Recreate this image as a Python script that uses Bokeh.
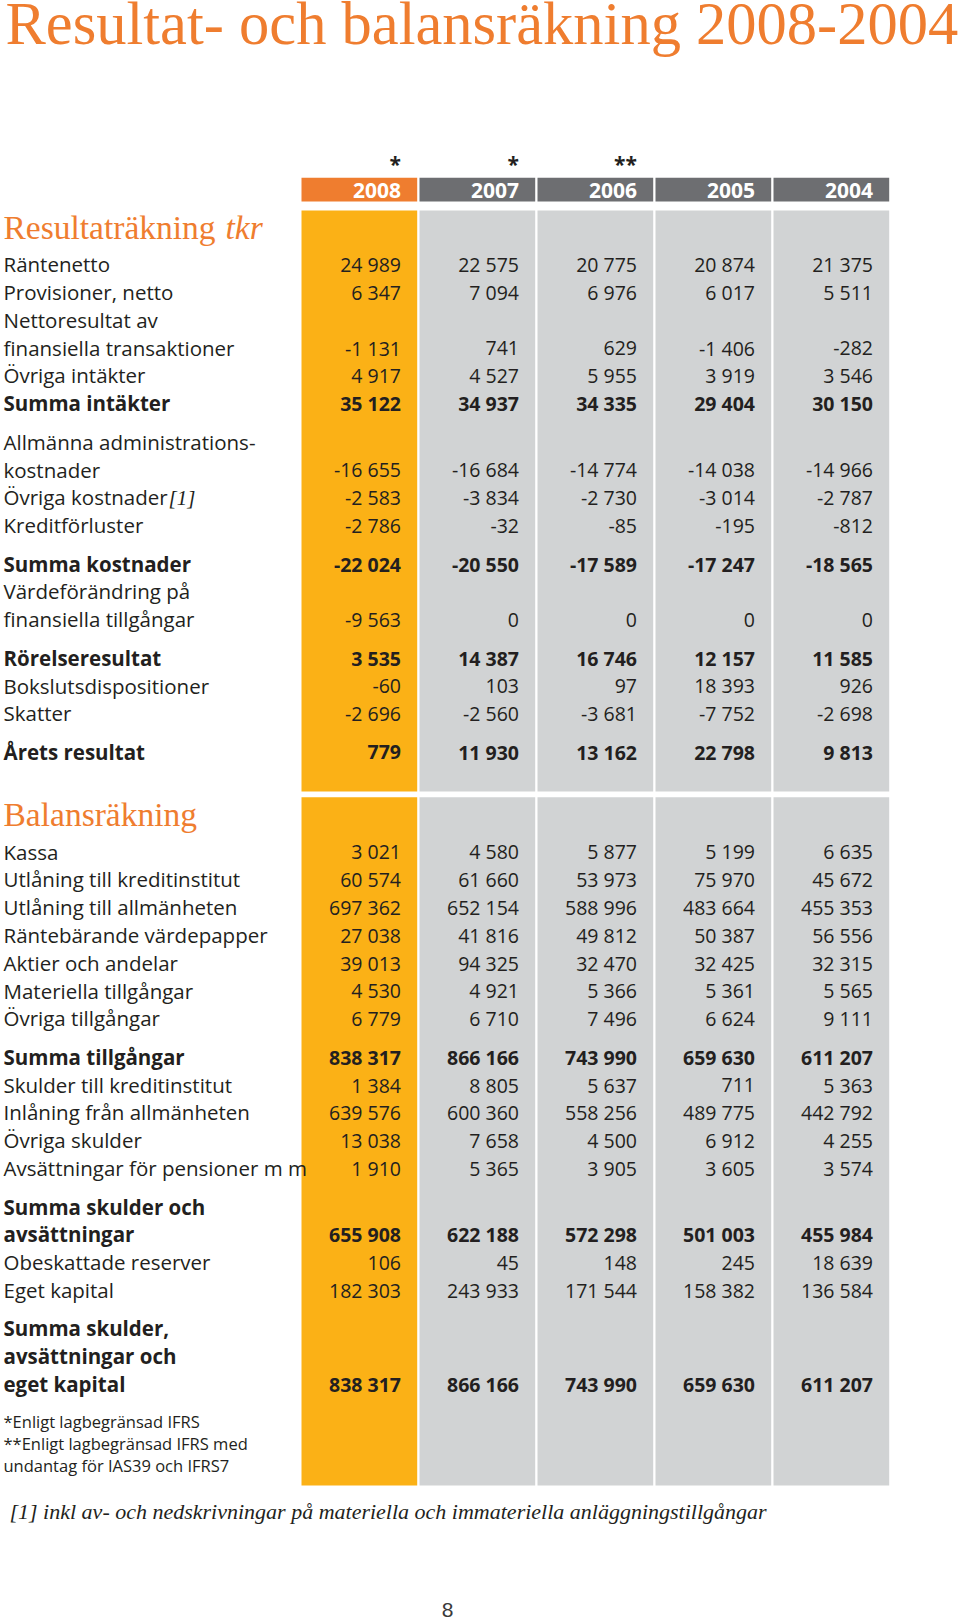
from bokeh.plotting import figure
from bokeh.models import Range1d
from bokeh.core.properties import value
from bokeh.embed import file_html
from bokeh.resources import INLINE

# ---------------- data ----------------
years = ["2008", "2007", "2006", "2005", "2004"]
year_marks = ["*", "*", "**", "", ""]

res_labels = ["Räntenetto", "Provisioner, netto", "Nettoresultat av\nfinansiella transaktioner",
              "Övriga intäkter", "Summa intäkter", "Allmänna administrations-\nkostnader",
              "Övriga kostnader", "Kreditförluster", "Summa kostnader",
              "Värdeförändring på\nfinansiella tillgångar", "Rörelseresultat",
              "Bokslutsdispositioner", "Skatter", "Årets resultat"]
res_bold = [4, 8, 10, 13]
res_gap_before = [5, 8, 10, 13]
res_2008 = [24989, 6347, -1131, 4917, 35122, -16655, -2583, -2786, -22024, -9563, 3535, -60, -2696, 779]
res_2007 = [22575, 7094, 741, 4527, 34937, -16684, -3834, -32, -20550, 0, 14387, 103, -2560, 11930]
res_2006 = [20775, 6976, 629, 5955, 34335, -14774, -2730, -85, -17589, 0, 16746, 97, -3681, 13162]
res_2005 = [20874, 6017, -1406, 3919, 29404, -14038, -3014, -195, -17247, 0, 12157, 18393, -7752, 22798]
res_2004 = [21375, 5511, -282, 3546, 30150, -14966, -2787, -812, -18565, 0, 11585, 926, -2698, 9813]

bal_labels = ["Kassa", "Utlåning till kreditinstitut", "Utlåning till allmänheten",
              "Räntebärande värdepapper", "Aktier och andelar", "Materiella tillgångar",
              "Övriga tillgångar", "Summa tillgångar", "Skulder till kreditinstitut",
              "Inlåning från allmänheten", "Övriga skulder", "Avsättningar för pensioner m m",
              "Summa skulder och\navsättningar", "Obeskattade reserver", "Eget kapital",
              "Summa skulder,\navsättningar och\neget kapital"]
bal_bold = [7, 12, 15]
bal_gap_before = [7, 12, 15]
bal_2008 = [3021, 60574, 697362, 27038, 39013, 4530, 6779, 838317, 1384, 639576, 13038, 1910, 655908, 106, 182303, 838317]
bal_2007 = [4580, 61660, 652154, 41816, 94325, 4921, 6710, 866166, 8805, 600360, 7658, 5365, 622188, 45, 243933, 866166]
bal_2006 = [5877, 53973, 588996, 49812, 32470, 5366, 7496, 743990, 5637, 558256, 4500, 3905, 572298, 148, 171544, 743990]
bal_2005 = [5199, 75970, 483664, 50387, 32425, 5361, 6624, 659630, 711, 489775, 6912, 3605, 501003, 245, 158382, 659630]
bal_2004 = [6635, 45672, 455353, 56556, 32315, 5565, 9111, 611207, 5363, 442792, 4255, 3574, 455984, 18639, 136584, 611207]

res_values = [res_2008, res_2007, res_2006, res_2005, res_2004]
bal_values = [bal_2008, bal_2007, bal_2006, bal_2005, bal_2004]

title = "Resultat- och balansräkning 2008-2004"
footnotes = ["*Enligt lagbegränsad IFRS", "**Enligt lagbegränsad IFRS med", "undantag för IAS39 och IFRS7"]
note1 = "[1] inkl av- och nedskrivningar på materiella och immateriella anläggningstillgångar"
page_no = "8"

# ---------------- style / layout ----------------
ORANGE = "#EF7D2F"
AMBER = "#FBB116"
DGRAY = "#6D6E71"
LGRAY = "#D1D3D4"
INK = "#231F20"

# baseline correction (fraction of font size) observed for the svg text renderer
K = {"Open Sans": 0.388, "Liberation Serif": 0.3375, "Liberation Sans": 0.3465}

COL0, COLSTEP, COLW = 301, 118, 115.7
PITCH, GAP = 27.8, 10.7
LBL_SIZE, VAL_SIZE = 20.5, 19.5

W, H = 960, 1621


def fmt(v):
    return f"{v:,}".replace(",", " ")


def by(baseline, font, size):
    return baseline - K[font] * size


def layout(labels, gaps, y0):
    lines, vy = [], []
    li, g = 0, 0
    for i, lab in enumerate(labels):
        if i in gaps:
            g += 1
        for part in lab.split("\n"):
            y = y0 + PITCH * li + GAP * g
            lines.append((i, part, y))
            li += 1
        vy.append(y)
    return lines, vy


p = figure(width=W, height=H, x_range=Range1d(0, W), y_range=Range1d(H, 0),
           output_backend="svg", toolbar_location=None, min_border=0)
p.axis.visible = False
p.grid.visible = False
p.outline_line_color = None
p.background_fill_color = "white"
p.border_fill_color = "white"


def txt(x, y, text, font, size, **kw):
    ys = [by(v, font, size) for v in y]
    p.text(x=x, y=ys, text=text, text_baseline="alphabetic", text_font=value(font),
           text_font_size=f"{size}px", **kw)


lefts = [COL0 + COLSTEP * i for i in range(len(years))]
rights = [l + COLW for l in lefts]
head_cols = [ORANGE] + [DGRAY] * (len(years) - 1)
body_cols = [AMBER] + [LGRAY] * (len(years) - 1)

# header bars
p.quad(left=lefts, right=rights, top=177.3, bottom=201, color=head_cols, line_color=None)
# body blocks
for top, bottom in [(210, 791), (796.7, 1485)]:
    p.quad(left=lefts, right=rights, top=top, bottom=bottom, color=body_cols, line_color=None)

vx = [l + 99.5 for l in lefts]
txt(vx, [198.3] * len(years), years, "Open Sans", 21, text_align="right",
    text_font_style="bold", text_color="white")
txt(vx, [172] * len(years), year_marks, "Open Sans", 21, text_align="right",
    text_font_style="bold", text_color=INK)

# title
txt([5], [43.5], [title], "Liberation Serif", 60.5, text_color=ORANGE)

# section headings
txt([3], [238], ["Resultaträkning"], "Liberation Serif", 33.5, text_color=ORANGE)
txt([225], [238], ["tkr"], "Liberation Serif", 33.5, text_font_style="italic", text_color=ORANGE)
txt([3], [825], ["Balansräkning"], "Liberation Serif", 33.5, text_color=ORANGE)


def draw_section(labels, gaps, bold, values, y0):
    lines, vy = layout(labels, gaps, y0)
    for is_bold in (False, True):
        style = "bold" if is_bold else "normal"
        sel = [(t, y) for (i, t, y) in lines if (i in bold) == is_bold]
        txt([3] * len(sel), [y for _, y in sel], [t for t, _ in sel], "Open Sans", LBL_SIZE,
            text_font_style=style, text_color=INK)
        idx = [i for i in range(len(labels)) if (i in bold) == is_bold]
        for c, col in enumerate(values):
            txt([vx[c]] * len(idx), [vy[i] for i in idx], [fmt(col[i]) for i in idx],
                "Open Sans", VAL_SIZE, text_align="right", text_font_style=style,
                text_color=INK)
    return lines, vy


lines1, vy1 = draw_section(res_labels, res_gap_before, res_bold, res_values, 271.7)
lines2, vy2 = draw_section(bal_labels, bal_gap_before, bal_bold, bal_values, 859)

# footnote marker after "Övriga kostnader"
txt([168], [vy1[6]], ["[1]"], "Liberation Serif", 21, text_font_style="italic", text_color=INK)

# small footnotes
txt([3, 3, 3], [1427.3, 1449.5, 1471.7], footnotes, "Open Sans", 16.5, text_color=INK)

# long italic footnote
txt([9], [1518], [note1], "Liberation Serif", 22, text_font_style="italic", text_color=INK)

# page number
txt([447], [1617], [page_no], "Liberation Sans", 21, text_align="center", text_color="#3a3a3a")

open("out.html", "w").write(file_html(p, INLINE))
